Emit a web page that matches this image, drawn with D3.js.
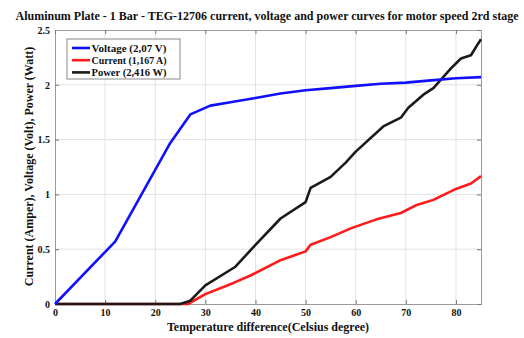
<!DOCTYPE html>
<html>
<head>
<meta charset="utf-8">
<script src="https://cdn.jsdelivr.net/npm/d3@7"></script>
<style>
  body { margin: 0; background: #fff; }
  text { font-family: "Liberation Serif", "Times New Roman", serif; font-weight: bold; fill: #111; }
</style>
</head>
<body>
<svg id="chart"></svg>
<script>
// Data
const voltageX = [0, 12, 23, 27, 31, 35, 40, 45, 50, 55, 60, 65, 70, 75, 80, 85];
const voltageY = [0, 0.57, 1.47, 1.73, 1.81, 1.84, 1.88, 1.92, 1.95, 1.97, 1.99, 2.01, 2.02, 2.04, 2.06, 2.07];

const currentX = [0, 26.5, 30, 35.5, 39, 45, 50, 51, 55, 59, 64, 69, 72, 75.5, 80, 83, 85];
const currentY = [0, 0, 0.09, 0.19, 0.26, 0.4, 0.48, 0.54, 0.61, 0.69, 0.77, 0.83, 0.9, 0.95, 1.05, 1.1, 1.167];

const powerX = [0, 25, 27, 30, 36, 40, 45, 50, 51, 55, 58, 60, 65.5, 69, 70.5, 73.5, 75.5, 79, 81, 83, 84.2, 85];
const powerY = [0, 0, 0.03, 0.17, 0.34, 0.54, 0.78, 0.93, 1.06, 1.16, 1.29, 1.39, 1.62, 1.7, 1.79, 1.91, 1.97, 2.15, 2.24, 2.27, 2.36, 2.416];

const seriesNames = ["Voltage (2,07 V)", "Current (1,167 A)", "Power (2,416 W)"];
const seriesColors = ["#1010ff", "#ff1a1a", "#1a1a1a"];
const xTicks = [0, 10, 20, 30, 40, 50, 60, 70, 80];
const yTicks = [0, 0.5, 1, 1.5, 2, 2.5];

const W = 524, H = 338;
const margin = { top: 30, right: 43, bottom: 34, left: 55 },
      width = W - margin.left - margin.right,
      height = H - margin.top - margin.bottom;

const svg = d3.select("#chart").attr("width", W).attr("height", H);
const g = svg.append("g").attr("transform", `translate(${margin.left},${margin.top})`);

const x = d3.scaleLinear().domain([0, 85]).range([0, width]);
const y = d3.scaleLinear().domain([0, 2.5]).range([height, 0]);

// grid
g.selectAll(".gx").data(xTicks.slice(1)).enter().append("line")
    .attr("x1", d => x(d)).attr("x2", d => x(d))
    .attr("y1", 0).attr("y2", height)
    .attr("stroke", "#e2e2e2").attr("stroke-width", 1);
g.selectAll(".gy").data(yTicks.slice(1, -1)).enter().append("line")
    .attr("x1", 0).attr("x2", width)
    .attr("y1", d => y(d)).attr("y2", d => y(d))
    .attr("stroke", "#e2e2e2").attr("stroke-width", 1);

// axes with inward ticks
g.append("g").attr("transform", `translate(0,${height})`)
    .call(d3.axisBottom(x).tickValues(xTicks).tickSize(-4).tickPadding(5).tickFormat(d3.format("d")));
g.append("g")
    .call(d3.axisLeft(y).tickValues(yTicks).tickSize(-4).tickPadding(5).tickFormat(d => String(d)));
g.append("g").call(d3.axisTop(x).tickValues(xTicks).tickSize(-4).tickFormat(""));
g.append("g").attr("transform", `translate(${width},0)`)
    .call(d3.axisRight(y).tickValues(yTicks).tickSize(-4).tickFormat(""));

g.selectAll(".domain").attr("stroke", "#9a9a9a");
g.selectAll(".tick line").attr("stroke", "#777");
g.selectAll(".tick text").style("font-size", "10px").style("font-family", "Liberation Serif, serif")
    .style("font-weight", "bold").attr("fill", "#111");

// lines
const series = [
  voltageX.map((d, i) => [d, voltageY[i]]),
  currentX.map((d, i) => [d, currentY[i]]),
  powerX.map((d, i) => [d, powerY[i]])
];
const line = d3.line().x(d => x(d[0])).y(d => y(d[1]));

// current and power first, voltage on top near the origin
[1, 2, 0].forEach(i => {
  g.append("path").datum(series[i])
    .attr("d", line)
    .attr("fill", "none")
    .attr("stroke", seriesColors[i])
    .attr("stroke-width", 2.6)
    .attr("stroke-linejoin", "round");
});

// legend
const legend = g.append("g").attr("transform", "translate(12,9)");
legend.append("rect").attr("width", 113).attr("height", 40)
    .attr("fill", "#fff").attr("stroke", "#888").attr("stroke-width", 1);
seriesNames.forEach((name, i) => {
  const row = legend.append("g").attr("transform", `translate(0,${9 + i * 12.2})`);
  row.append("line").attr("x1", 5).attr("x2", 23).attr("y1", 0).attr("y2", 0)
      .attr("stroke", seriesColors[i]).attr("stroke-width", 2.6);
  row.append("text").attr("x", 24.5).attr("dy", "0.35em").style("font-size", "11px")
      .attr("textLength", 75).attr("lengthAdjust", "spacingAndGlyphs").text(name);
});

// titles
svg.append("text").attr("x", 267).attr("y", 20).attr("text-anchor", "middle")
    .style("font-size", "12px")
    .text("Aluminum Plate - 1 Bar - TEG-12706 current, voltage and power curves for motor speed 2rd stage");

svg.append("text").attr("x", 268).attr("y", 331).attr("text-anchor", "middle")
    .style("font-size", "12px")
    .text("Temperature difference(Celsius degree)");

svg.append("text")
    .attr("transform", `translate(29,166.5) rotate(-90)`)
    .attr("text-anchor", "middle")
    .attr("dy", "0.35em")
    .style("font-size", "12px")
    .text("Current (Amper), Voltage (Volt), Power (Watt)");
</script>
</body>
</html>
